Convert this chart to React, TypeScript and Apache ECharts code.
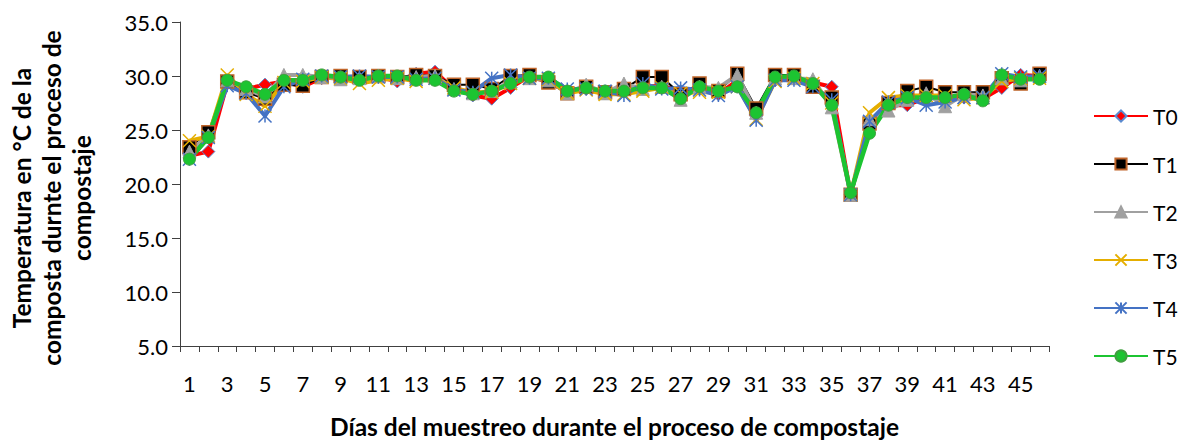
import React, { useEffect, useRef } from "react";
import * as echarts from "echarts";

// Sampling days 1..46
const days: string[] = Array.from({ length: 46 }, (_, i) => String(i + 1));

const seriesNames = ["T0", "T1", "T2", "T3", "T4", "T5"];

const t0 = [22.6, 23.0, 29.3, 28.8, 29.2, 29.5, 29.0, 29.8, 29.9, 29.8, 29.9, 29.5, 30.2, 30.4, 28.8, 28.2, 27.9, 28.9, 30.0, 29.4, 28.6, 28.8, 28.4, 28.6, 29.0, 29.1, 28.6, 28.8, 28.3, 29.6, 26.3, 29.6, 29.9, 29.4, 29.0, 19.0, 25.6, 27.3, 27.3, 28.0, 28.0, 28.0, 27.9, 28.9, 30.1, 30.0];
const t1 = [23.4, 24.8, 29.5, 28.5, 27.9, 29.2, 29.1, 29.9, 30.0, 29.9, 30.0, 29.9, 30.1, 30.0, 29.2, 29.2, 28.8, 30.0, 30.1, 29.4, 28.4, 29.0, 28.5, 28.8, 29.9, 29.9, 28.3, 29.3, 28.6, 30.2, 27.0, 30.1, 30.1, 29.0, 28.0, 19.0, 25.6, 27.5, 28.6, 29.0, 28.5, 28.5, 28.5, 29.8, 29.3, 30.2];
const t2 = [23.0, 24.5, 29.6, 28.8, 28.1, 30.1, 30.1, 29.9, 29.7, 29.8, 30.0, 29.8, 29.9, 30.0, 28.8, 28.4, 28.6, 29.5, 29.8, 29.6, 28.4, 29.2, 28.4, 29.3, 28.8, 29.0, 27.8, 29.0, 28.9, 30.1, 26.6, 29.8, 29.8, 29.7, 27.1, 19.0, 26.0, 26.8, 27.8, 28.4, 27.2, 28.3, 28.2, 29.8, 29.6, 30.0];
const t3 = [24.0, 24.4, 30.1, 28.3, 27.2, 29.4, 29.5, 29.9, 29.8, 29.3, 29.6, 29.8, 29.5, 29.8, 28.9, 28.5, 28.5, 29.3, 29.8, 29.7, 28.4, 28.7, 28.3, 28.3, 28.6, 28.9, 28.4, 28.5, 28.5, 29.0, 26.0, 29.5, 29.8, 29.3, 27.5, 19.0, 26.6, 28.0, 28.2, 28.2, 28.2, 27.8, 28.0, 29.5, 29.8, 29.8];
const t4 = [22.3, 24.3, 29.1, 28.4, 26.3, 29.0, 29.7, 30.0, 29.9, 30.0, 29.9, 29.9, 29.7, 29.8, 28.7, 28.5, 29.8, 30.1, 29.8, 29.8, 28.8, 28.8, 28.6, 28.2, 29.3, 28.8, 28.9, 28.7, 28.2, 29.0, 25.9, 29.6, 29.6, 29.0, 27.8, 19.0, 25.8, 27.6, 28.0, 27.3, 27.6, 28.0, 28.0, 30.2, 29.9, 30.0];
const t5 = [22.3, 24.3, 29.6, 29.0, 28.3, 29.6, 29.6, 30.1, 29.9, 29.6, 30.0, 30.0, 29.6, 29.6, 28.6, 28.3, 28.6, 29.3, 29.9, 29.9, 28.6, 28.9, 28.6, 28.6, 28.9, 28.9, 27.9, 29.0, 28.6, 29.0, 26.6, 29.9, 30.0, 29.3, 27.3, 19.2, 24.7, 27.3, 28.0, 28.0, 28.0, 28.3, 27.7, 30.1, 29.7, 29.7];

const yTicks = { min: 5, max: 35, step: 5 };

const xTitle = "Días del muestreo durante el proceso de compostaje";
const yTitle = "Temperatura en °C de la\ncomposta durnte el proceso de\ncompostaje";

const FONT = "Lato";

// marker shapes: cross for T3, asterisk for T4
const crossPath = "path://M0,0 L10,10 M10,0 L0,10";
const starPath = "path://M5,0 L5,10 M0,0 L10,10 M10,0 L0,10";

export default function App() {
  const ref = useRef<HTMLDivElement>(null);

  useEffect(() => {
    if (!ref.current) return;
    const chart = echarts.init(ref.current, null, { renderer: "svg" });

    const values = [t0, t1, t2, t3, t4, t5];
    const styles = [
      { line: "#FF0000", width: 4, symbol: "diamond", size: 13, fill: "#FF0000", border: "#5B8BD0", bw: 1 },
      { line: "#000000", width: 2, symbol: "rect", size: 13, fill: "#000000", border: "#C0652A", bw: 1.5 },
      { line: "#A0A0A0", width: 4, symbol: "triangle", size: 13, fill: "#A0A0A0", border: "#A0A0A0", bw: 1 },
      { line: "#E5AE00", width: 4, symbol: crossPath, size: 13, fill: "none", border: "#E5AE00", bw: 1.5 },
      { line: "#4472C4", width: 4, symbol: starPath, size: 13, fill: "none", border: "#4472C4", bw: 1.5 },
      { line: "#1CC431", width: 4.5, symbol: "circle", size: 12, fill: "#1CC431", border: "#3F9F3F", bw: 1 },
    ];

    const series = seriesNames.map((name, i) => {
      const s = styles[i];
      return {
        name,
        type: "line",
        data: values[i],
        symbol: s.symbol,
        symbolSize: s.size,
        showAllSymbol: true,
        lineStyle: { color: s.line, width: s.width },
        itemStyle: { color: s.fill === "none" ? s.line : s.fill, borderColor: s.border, borderWidth: s.bw },
        emphasis: { disabled: true },
      };
    });

    chart.setOption({
      animation: false,
      backgroundColor: "#ffffff",
      textStyle: { fontFamily: FONT },
      grid: { left: 180, right: 130, top: 22, bottom: 87, containLabel: false },
      graphic: [
        {
          type: "text",
          x: 51,
          y: 198,
          rotation: Math.PI / 2,
          style: {
            text: yTitle,
            fontFamily: FONT,
            fontSize: 24.5,
            fontWeight: "bold",
            fill: "#000",
            lineHeight: 30,
            align: "center",
            verticalAlign: "middle",
          },
        },
      ],
      legend: {
        orient: "vertical",
        left: 1088,
        top: 99,
        itemWidth: 54,
        itemHeight: 14,
        itemGap: 24,
        data: seriesNames,
        textStyle: { fontFamily: FONT, fontSize: 21, lineHeight: 24, color: "#000" },
      },
      xAxis: {
        type: "category",
        data: days,
        boundaryGap: true,
        name: xTitle,
        nameLocation: "middle",
        nameGap: 68,
        nameTextStyle: { fontFamily: FONT, fontSize: 24.5, fontWeight: "bold", color: "#000" },
        axisLine: { lineStyle: { color: "#404040", width: 1 } },
        axisTick: { show: true, interval: 0, length: 6, lineStyle: { color: "#404040" } },
        axisLabel: { interval: 1, margin: 26, fontSize: 22, color: "#000", fontFamily: FONT },
        splitLine: { show: false },
      },
      yAxis: {
        type: "value",
        min: yTicks.min,
        max: yTicks.max,
        interval: yTicks.step,
        axisLine: { show: true, lineStyle: { color: "#404040", width: 1 } },
        axisTick: { show: true, length: 8, lineStyle: { color: "#404040" } },
        axisLabel: { margin: 12, fontSize: 22, color: "#000", fontFamily: FONT, formatter: (v: number) => v.toFixed(1) },
        splitLine: { show: false },
      },
      series,
    });

    return () => chart.dispose();
  }, []);

  return <div ref={ref} style={{ position: "absolute", left: 0, top: 0, width: 1179, height: 444 }} />;
}
